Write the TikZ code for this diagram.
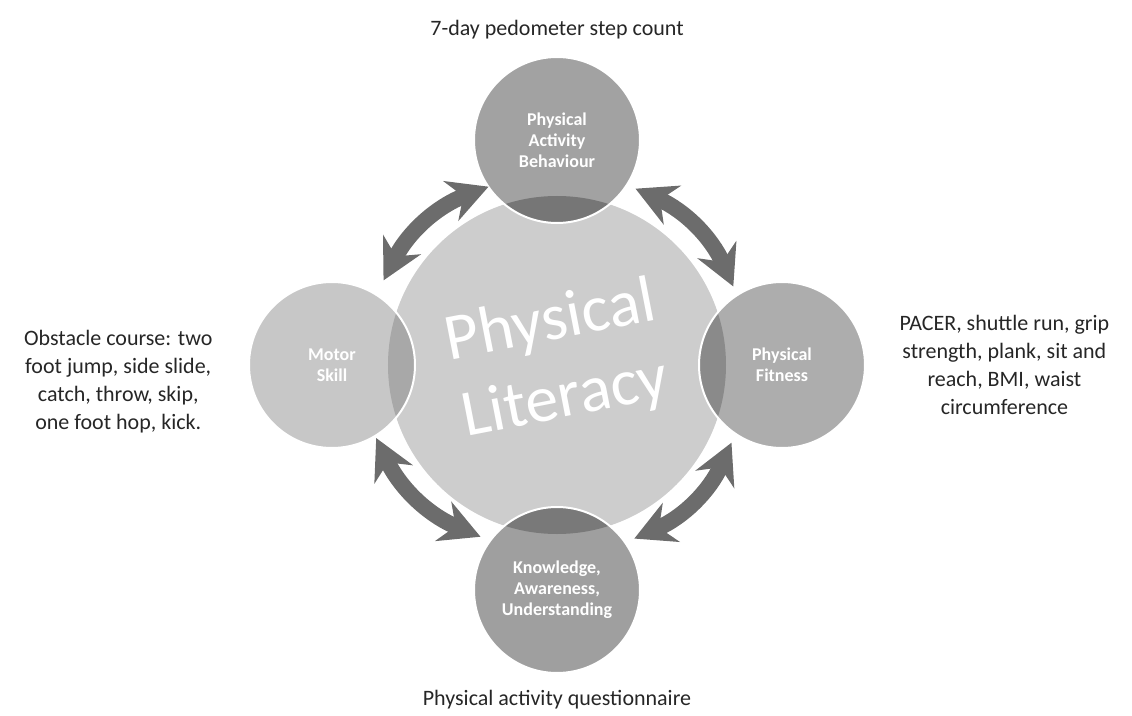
\documentclass[tikz,border=0pt]{standalone}
\usepackage{fontspec}
\setmainfont{Carlito}
\usepackage{tikz}
\usetikzlibrary{arrows.meta,positioning}
\definecolor{hubgray}{RGB}{205,205,205}
\definecolor{pabgray}{RGB}{162,162,162}
\definecolor{pablens}{RGB}{118,118,118}
\definecolor{msgray}{RGB}{199,199,199}
\definecolor{mslens}{RGB}{168,168,168}
\definecolor{pfgray}{RGB}{173,173,173}
\definecolor{pflens}{RGB}{138,138,138}
\definecolor{kaugray}{RGB}{159,159,159}
\definecolor{kaulens}{RGB}{121,121,121}
\definecolor{arrowgray}{RGB}{108,108,108}
\tikzstyle{hub}=[circle,fill=hubgray,minimum size=338pt,inner sep=0pt,outer sep=0pt]
\tikzstyle{sat}=[circle,draw=white,line width=2pt,minimum size=166pt,inner sep=0pt,outer sep=0pt,
                 text=white,align=center,font=\fontsize{18}{21}\selectfont\bfseries]
\tikzset{lens/.style={path picture={\fill[#1] (pl.center) circle[radius=169pt];}}}
\tikzstyle{twoway}=[{Stealth[length=40pt,width=42pt,inset=13pt]}-{Stealth[length=40pt,width=42pt,inset=13pt]},
                    line width=16pt,draw=arrowgray]
\tikzstyle{note}=[align=center,text=black!85,font=\fontsize{22}{28}\selectfont]

\begin{document}
\begin{tikzpicture}[x=1pt,y=1pt]
  \useasboundingbox (-557,-350) rectangle (575,365);
  \node[hub] (pl) at (0,0) {};
  \node[rotate=11,text=white,align=center,font=\fontsize{66}{78}\selectfont] (title) at (1,4) {Physical\\Literacy};

  \node[sat,fill=pabgray,lens=pablens,above=-27pt of pl] (pab) {Physical\\Activity\\Behaviour};
  \node[sat,fill=msgray,lens=mslens,left=-27pt of pl] (ms) {Motor\\Skill};
  \node[sat,fill=pfgray,lens=pflens,right=-27pt of pl] (pf) {Physical\\Fitness};
  \node[sat,fill=kaugray,lens=kaulens,below=-27pt of pl] (kau) {Knowledge,\\Awareness,\\Understanding};

  % arrow ends around the hub
  \coordinate (tr1) at (24:193);  \coordinate (tr2) at (66:193);
  \coordinate (tl1) at (111:191); \coordinate (tl2) at (154:193);
  \coordinate (bl1) at (202:195); \coordinate (bl2) at (246:188);
  \coordinate (br1) at (294:190); \coordinate (br2) at (336:191);
  \draw[twoway] (tr1) to[bend right=21] (tr2);
  \draw[twoway] (tl1) to[bend right=21] (tl2);
  \draw[twoway] (bl1) to[bend right=21] (bl2);
  \draw[twoway] (br1) to[bend right=21] (br2);

  \node[note,above=14pt of pab] (pabnote) {7-day pedometer step count};
  \node[note,below=14pt of kau] (kaunote) {Physical activity questionnaire};
  \node[note,left=33pt of ms,yshift=-17pt] (msnote) {Obstacle course: two\\foot jump, side slide,\\catch, throw, skip,\\one foot hop, kick.};
  \node[note,right=31pt of pf] (pfnote) {PACER, shuttle run, grip\\strength, plank, sit and\\reach, BMI, waist\\circumference};
\end{tikzpicture}
\end{document}
